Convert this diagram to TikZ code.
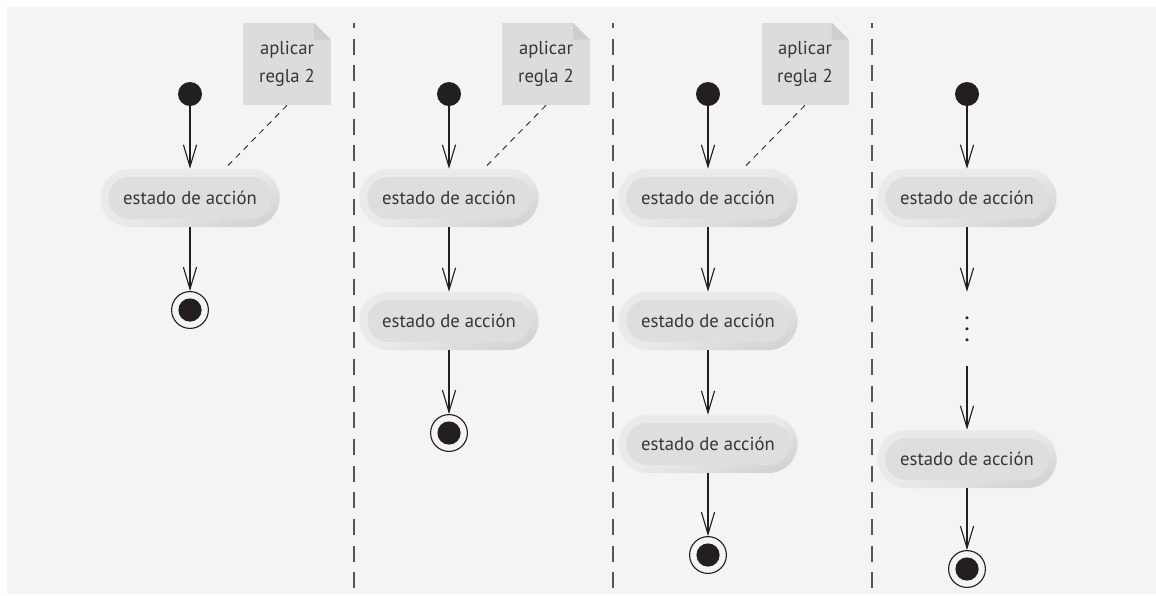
\documentclass[tikz,border=0pt]{standalone}
\usepackage{fontspec}
\setmainfont{PT Sans}
\usepackage{xcolor}
\usetikzlibrary{arrows.meta, calc}
\definecolor{panelgray}{RGB}{244,244,244}
\definecolor{rimlight}{RGB}{234,234,235}
\definecolor{rimdark}{RGB}{212,212,214}
\definecolor{actiongray}{RGB}{222,222,224}
\definecolor{notegray}{RGB}{220,220,221}
\definecolor{foldgray}{RGB}{206,206,207}
\definecolor{inkblack}{RGB}{35,31,32}
\definecolor{textgray}{RGB}{55,55,55}
\definecolor{dividergray}{RGB}{85,85,85}

\begin{document}
\begin{tikzpicture}[x=0.025cm, y=-0.025cm]

        % Définition des styles
        \tikzset{
            start/.style={circle, fill=inkblack, minimum size=0.6cm, inner sep=0pt},
            finish/.style={circle, draw=inkblack, line width=0.8pt, fill=panelgray, minimum size=0.92cm, inner sep=0pt, path picture={\fill[inkblack] (path picture bounding box.center) circle (0.29cm);}},
            action/.style={rounded corners=0.725cm, minimum width=4.48cm, minimum height=1.45cm, top color=rimlight, bottom color=rimdark, middle color=rimlight, shading angle=20, text=textgray, font=\fontsize{13.3}{16}\selectfont,
                path picture={\fill[actiongray, rounded corners=0.525cm] ($(path picture bounding box.south west)+(0.2cm,0.2cm)$) rectangle ($(path picture bounding box.north east)-(0.2cm,0.2cm)$);}},
            notebox/.style={fill=notegray, minimum width=2.175cm, minimum height=2.05cm, align=center, text=textgray, font=\fontsize{13.3}{20}\selectfont},
            gapdots/.style={minimum height=1.85cm, inner sep=0pt, align=center, text=inkblack, font=\fontsize{13}{7.8}\bfseries},
            flow/.style={-{Straight Barb[length=0.55cm, width=0.33cm]}, line width=0.8pt, draw=inkblack},
            anchorline/.style={dash pattern=on 0.15cm off 0.13cm, line width=0.6pt, draw=inkblack},
            divider/.style={line width=1.5pt, draw=dividergray, dash pattern=on 0.4cm off 0.267cm, dash phase=0.275cm}
        }

        % --- FOND ---
        \useasboundingbox (0,0) rectangle (1156,595);
        \fill[panelgray] (7,7) rectangle (1156,594);

        % --- SÉPARATEURS ---
        \foreach \xsep in {354, 613, 872}
            \draw[divider] (\xsep,23) -- (\xsep,588);

        % --- COLONNE 1 ---
        \node[start] (init1) at (190,94) {};
        \node[action] (act11) at (190,198) {estado de acción};
        \node[finish] (end1) at (190,310) {};
        \node[notebox] (note1) at (287,64) {aplicar\\regla 2};

        % --- COLONNE 2 ---
        \node[start] (init2) at (449,94) {};
        \node[action] (act21) at (449,198) {estado de acción};
        \node[action] (act22) at (449,321) {estado de acción};
        \node[finish] (end2) at (449,433) {};
        \node[notebox] (note2) at (546,64) {aplicar\\regla 2};

        % --- COLONNE 3 ---
        \node[start] (init3) at (708,94) {};
        \node[action] (act31) at (708,198) {estado de acción};
        \node[action] (act32) at (708,321) {estado de acción};
        \node[action] (act33) at (708,444) {estado de acción};
        \node[finish] (end3) at (708,555) {};
        \node[notebox] (note3) at (805,64) {aplicar\\regla 2};

        % --- COLONNE 4 ---
        \node[start] (init4) at (967,94) {};
        \node[action] (act41) at (967,198) {estado de acción};
        \node[gapdots] (gap4) at (967,329) {.\\.\\.};
        \node[action] (act42) at (967,459) {estado de acción};
        \node[finish] (end4) at (967,569) {};

        % --- COINS PLIÉS DES NOTES ---
        \foreach \nt in {note1, note2, note3} {
            \fill[panelgray] (\nt.north east) -- ($(\nt.north east)+(-17,0)$) -- ($(\nt.north east)+(0,17)$) -- cycle;
            \fill[foldgray] ($(\nt.north east)+(-17,0)$) -- ($(\nt.north east)+(-17,17)$) -- ($(\nt.north east)+(0,17)$) -- cycle;
        }

        % --- CONNEXIONS ---
        \draw[flow] (init1) -- (act11);
        \draw[flow] (act11) -- (end1);

        \draw[flow] (init2) -- (act21);
        \draw[flow] (act21) -- (act22);
        \draw[flow] (act22) -- (end2);

        \draw[flow] (init3) -- (act31);
        \draw[flow] (act31) -- (act32);
        \draw[flow] (act32) -- (act33);
        \draw[flow] (act33) -- (end3);

        \draw[flow] (init4) -- (act41);
        \draw[flow] (act41) -- (gap4);
        \draw[flow] (gap4) -- (act42);
        \draw[flow] (act42) -- (end4);

        % Notes vers les états
        \draw[anchorline] (note1.south) -- (act11.40);
        \draw[anchorline] (note2.south) -- (act21.40);
        \draw[anchorline] (note3.south) -- (act31.40);

    \end{tikzpicture}
\end{document}
